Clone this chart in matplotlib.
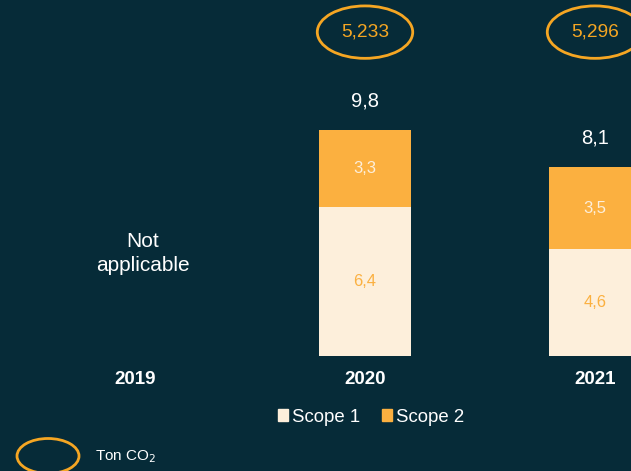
import matplotlib.pyplot as plt
from matplotlib.patches import Ellipse, Patch

plt.rcParams['font.family'] = ['Liberation Sans', 'DejaVu Sans']

# Datos
years = ["2019", "2020", "2021"]
scope1 = [0, 6.4, 4.6]
scope2 = [0, 3.3, 3.5]
totals = ["", "9,8", "8,1"]
ton_co2 = ["", "5,233", "5,296"]
scope1_labels = ["", "6,4", "4,6"]
scope2_labels = ["", "3,3", "3,5"]

bg = "#062b38"
c_scope1 = "#fdefdb"
c_scope2 = "#fbb040"
c_ring = "#f5a623"

fig = plt.figure(figsize=(6.31, 4.71), dpi=100, facecolor=bg)
ax = fig.add_axes([0, 0, 1, 1])
ax.set_facecolor(bg)

# escala: 230 px por categoria, ~23.3 px por unidad
ax.set_xlim(-135 / 230, (631 - 135) / 230)
ax.set_ylim(-115 / 23.3, (471 - 115) / 23.3)
ax.axis("off")

x = list(range(len(years)))
ax.bar(x, scope1, width=0.4, color=c_scope1)
ax.bar(x, scope2, width=0.4, bottom=scope1, color=c_scope2)

for i in x:
    ax.text(i, -1.0, years[i], ha="center", va="center", color="white",
            fontsize=13.5, fontweight="bold")
    if scope1[i] == 0:
        continue
    ax.text(i, scope1[i] / 2, scope1_labels[i], ha="center", va="center",
            color=c_scope2, fontsize=12)
    ax.text(i, scope1[i] + scope2[i] / 2, scope2_labels[i], ha="center",
            va="center", color=c_scope1, fontsize=12)
    ax.text(i, scope1[i] + scope2[i] + 1.25, totals[i], ha="center",
            va="center", color="white", fontsize=14.5)
    ax.add_patch(Ellipse((i, 13.9), 0.415, 2.25, fill=False,
                         edgecolor=c_ring, lw=2))
    ax.text(i, 13.9, ton_co2[i], ha="center", va="center", color=c_ring,
            fontsize=13.8)

ax.text(0.035, 4.4, "Not\napplicable", ha="center", va="center",
        color="white", fontsize=15, linespacing=1.3)

# leyenda
handles = [Patch(color=c_scope1, label="Scope 1"),
           Patch(color=c_scope2, label="Scope 2")]
fig.legend(handles=handles, loc="center", bbox_to_anchor=(371 / 631, 1 - 417 / 471),
           ncol=2, frameon=False, fontsize=13.4, labelcolor="white",
           handlelength=0.55, handleheight=0.55, handletextpad=0.2,
           columnspacing=1.2)

# anillo de la leyenda
fig.patches.append(Ellipse((48 / 631, 1 - 456 / 471), 62 / 631, 35 / 471,
                           transform=fig.transFigure, fill=False,
                           edgecolor=c_ring, lw=2))
fig.text(95 / 631, 1 - 457 / 471, "Ton CO$_2$", ha="left", va="center",
         color="white", fontsize=11)

fig.savefig("out.png", dpi=100, facecolor=bg)
